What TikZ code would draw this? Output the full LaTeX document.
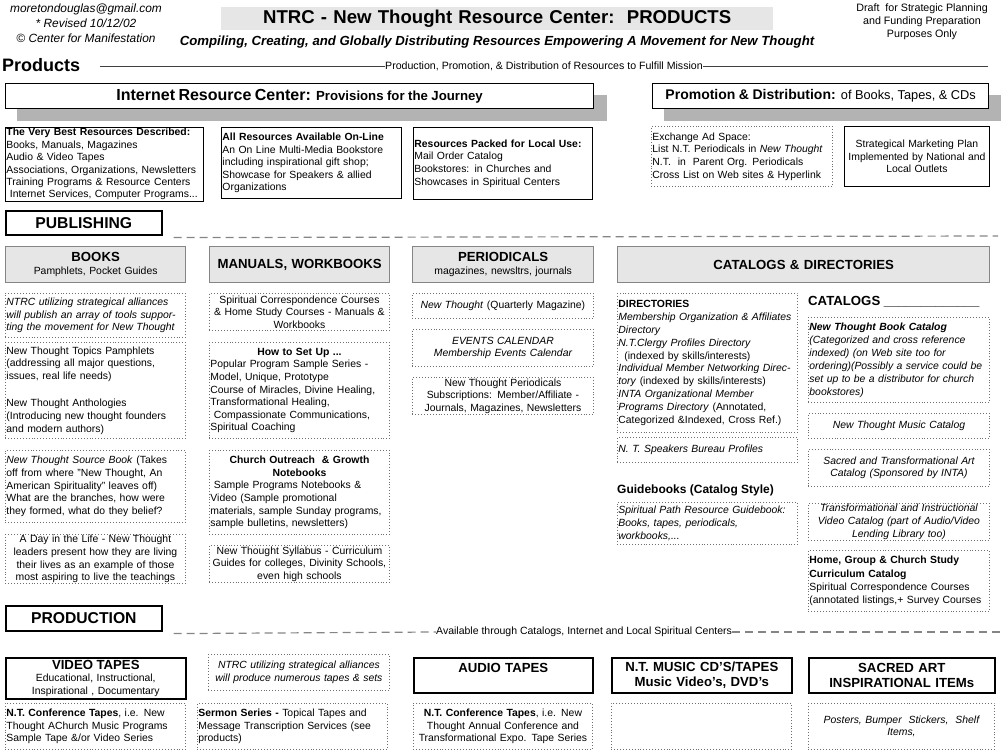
\documentclass[tikz,border=0pt]{standalone}
\usepackage{fontspec}
\setmainfont{Liberation Sans}
\usetikzlibrary{backgrounds}
\definecolor{ntrcfill}{HTML}{E6E6E6}
\definecolor{ntrcshade}{HTML}{B3B3B3}
\definecolor{ntrcrule}{HTML}{858585}
\definecolor{ntrcdot}{HTML}{6E6E6E}
\newcommand{\ntfont}[2]{\fontsize{#1}{#2}\selectfont}
\newcommand{\midline}[1]{\makebox[\linewidth]{#1}}

\begin{document}
\begin{tikzpicture}[
  x=1pt, y=-1pt,
  font=\ntfont{10.4}{12.6},
  every node/.style={anchor=north west, inner xsep=1pt, inner ysep=1pt},
  sized/.style 2 args={text width={#1pt-2pt}, minimum height={#2pt}},
  lbox/.style={align=left},
  cbox/.style={align=center},
  framed/.style={draw=black, line width=0.9pt, fill=white},
  dotbox/.style={draw=ntrcdot, dotted, line width=0.9pt},
  titlebox/.style={fill=ntrcfill, align=center, font=\bfseries\ntfont{18.6}{21}},
  banner/.style={draw=black, line width=1.2pt, fill=white, align=center},
  colhead/.style={draw=ntrcrule, fill=ntrcfill, line width=1.3pt, align=center},
  section/.style={draw=black, line width=1.6pt, align=center, font=\bfseries\ntfont{15.7}{18}},
  prodhead/.style={draw=black, line width=1.6pt, align=center, font=\bfseries\ntfont{13.2}{15.5}},
  hline/.style={draw=black!75, line width=0.8pt},
  sepline/.style={draw=ntrcrule, line width=1.2pt, dash pattern=on 8pt off 5pt}
]
  \useasboundingbox (0,0) rectangle (1002,751);

  % heading
  \node[anchor=north, align=center, font=\itshape\ntfont{11.9}{15}] (contact) at (86,3) {moretondouglas@gmail.com\\{*} Revised 10/12/02\\© Center for Manifestation};
  \node[titlebox, sized={552}{23}] (title) at (221,7) {NTRC - New Thought Resource Center:\ \ PRODUCTS};
  \node[anchor=center, font=\bfseries\itshape\ntfont{13.2}{15}] (subtitle) at (497,42) {Compiling, Creating, and Globally Distributing Resources Empowering A Movement for New Thought};
  \node[anchor=north, align=center, font=\ntfont{10.7}{12.8}] (draft) at (922,3) {Draft\ \ for Strategic Planning\\and Funding Preparation\\Purposes Only};

  \node[anchor=west, inner xsep=0pt, font=\bfseries\ntfont{18}{20}] (products) at (2,65) {Products};
  \node[anchor=west, inner xsep=0pt, font=\ntfont{10.6}{12}] (mission) at (385,66) {Production, Promotion, \& Distribution of Resources to Fulfill Mission};
  \coordinate (rulestart) at (100,66);
  \coordinate (ruleend) at (988,66);
  \draw[hline] (rulestart) -- (mission.west);
  \draw[hline] (mission.east) -- (ruleend);

  % resource center and promotion
  \node[banner, sized={588}{25}] (irc) at (5,83) {\bfseries\ntfont{16}{18}Internet Resource Center: \ntfont{13.2}{15}Provisions for the Journey};
  \node[banner, sized={336}{25}] (promo) at (652,83) {\ntfont{14}{16}\textbf{Promotion \& Distribution:} {\ntfont{12.8}{15}of Books, Tapes, \& CDs}};
  \begin{scope}[on background layer]
    \fill[ntrcshade] ([shift={(12,12)}]irc.north west) rectangle ([shift={(13,12)}]irc.south east);
    \fill[ntrcshade] ([shift={(12,12)}]promo.north west) rectangle ([shift={(12,12)}]promo.south east);
  \end{scope}

  \node[framed, lbox, sized={198}{71}, font=\ntfont{10.4}{12.4}] (best) at (5,127) {\textbf{The Very Best Resources Described:}\\Books, Manuals, Magazines\\Audio \& Video Tapes\\Associations, Organizations, Newsletters\\Training Programs \& Resource Centers\\\ Internet Services, Computer Programs...};
  \node[framed, lbox, sized={180}{71}] (online) at (221,127) {\textbf{All Resources Available On-Line}\\An On Line Multi-Media Bookstore\\including inspirational gift shop;\\Showcase for Speakers \& allied\\Organizations};
  \node[framed, lbox, sized={179}{72}] (local) at (413,127) {\textbf{Resources Packed for Local Use:}\\Mail Order Catalog\\Bookstores: in Churches and\\Showcases in Spiritual Centers};
  \node[dotbox, lbox, sized={181}{60}] (adspace) at (651,126) {Exchange Ad Space:\\List N.T. Periodicals in \textit{New Thought}\\N.T.\ \ in\ \ Parent Org. Periodicals\\Cross List on Web sites \& Hyperlink};
  \node[framed, cbox, sized={145}{60}] (marketing) at (844,126) {Strategical Marketing Plan\\Implemented by National and\\Local Outlets};

  % publishing
  \node[section, sized={156}{24}] (publishing) at (5,210) {PUBLISHING};
  \coordinate (pubend) at (998,236);
  \draw[sepline] ([shift={(11,2)}]publishing.south east) -- (pubend);

  \node[colhead, sized={180}{36}] (books) at (5,246) {\textbf{\ntfont{13.2}{15}BOOKS}\\Pamphlets, Pocket Guides};
  \node[colhead, sized={180}{36}, font=\bfseries\ntfont{13.2}{15}] (manuals) at (209,246) {MANUALS, WORKBOOKS};
  \node[colhead, sized={181}{36}] (periodicals) at (412,246) {\textbf{\ntfont{13.2}{15}PERIODICALS}\\magazines, newsltrs, journals};
  \node[colhead, sized={372}{36}, font=\bfseries\ntfont{13.2}{15}] (catalogs) at (617,246) {CATALOGS \& DIRECTORIES};

  \node[dotbox, lbox, sized={180}{44}, font=\itshape\ntfont{10.4}{12.6}] (bookalliance) at (5,293) {NTRC utilizing strategical alliances\\will publish an array of tools suppor-\\ting the movement for New Thought};
  \node[dotbox, lbox, sized={180}{96}] (pamphlets) at (5,342) {New Thought Topics Pamphlets\\(addressing all major questions,\\issues, real life needs)\\[15pt]New Thought Anthologies\\(Introducing new thought founders\\and modern authors)};
  \node[dotbox, lbox, sized={180}{72}] (sourcebook) at (5,450) {\textit{New Thought Source Book} (Takes\\off from where "New Thought, An\\American Spirituality" leaves off)\\What are the branches, how were\\they formed, what do they belief?};
  \node[dotbox, cbox, sized={180}{48}] (dayinlife) at (5,534) {A Day in the Life - New Thought\\leaders present how they are living\\their lives as an example of those\\most aspiring to live the teachings};

  \node[dotbox, cbox, sized={180}{37}] (correspond) at (209,293) {Spiritual Correspondence Courses\\\& Home Study Courses - Manuals \&\\Workbooks};
  \node[dotbox, lbox, sized={180}{96}] (setup) at (209,342) {\midline{\textbf{How to Set Up ...}}\\Popular Program Sample Series -\\Model, Unique, Prototype\\Course of Miracles, Divine Healing,\\Transformational Healing,\\\ Compassionate Communications,\\Spiritual Coaching};
  \node[dotbox, lbox, sized={180}{84}] (outreach) at (209,450) {\midline{\textbf{Church Outreach\ \ \& Growth}}\\\midline{\textbf{Notebooks}}\\\ Sample Programs Notebooks \&\\Video (Sample promotional\\materials, sample Sunday programs,\\sample bulletins, newsletters)};
  \node[dotbox, cbox, sized={180}{37}] (syllabus) at (209,545) {New Thought Syllabus - Curriculum\\Guides for colleges, Divinity Schools,\\even high schools};

  \node[dotbox, cbox, sized={181}{25}] (magazine) at (412,293) {\textit{New Thought} (Quarterly Magazine)};
  \node[dotbox, cbox, sized={181}{37}, font=\itshape\ntfont{10.4}{12.6}] (events) at (412,329) {EVENTS CALENDAR\\Membership Events Calendar};
  \node[dotbox, cbox, sized={181}{37}] (subscriptions) at (412,377) {New Thought Periodicals\\Subscriptions: Member/Affiliate -\\Journals, Magazines, Newsletters};

  \node[dotbox, lbox, sized={180}{139}, font=\ntfont{10.4}{12.9}] (directories) at (617,293) {\textbf{DIRECTORIES}\\\textit{Membership Organization \& Affiliates}\\\textit{Directory}\\\textit{N.T.Clergy Profiles Directory}\\\hspace{6pt}(indexed by skills/interests)\\\textit{Individual Member Networking Direc-}\\\textit{tory} (indexed by skills/interests)\\\textit{INTA Organizational Member}\\\textit{Programs Directory} (Annotated,\\Categorized \&Indexed, Cross Ref.)};
  \node[dotbox, lbox, sized={180}{25}, font=\itshape\ntfont{10.4}{12.6}] (speakers) at (617,437) {N. T. Speakers Bureau Profiles};
  \node[anchor=west, inner xsep=0pt, font=\bfseries\ntfont{12}{14}] (guidebooks) at (617,490) {Guidebooks (Catalog Style)};
  \node[dotbox, lbox, sized={180}{42}, font=\itshape\ntfont{10.4}{12.6}] (pathguide) at (617,502) {Spiritual Path Resource Guidebook:\\Books, tapes, periodicals,\\workbooks,...};

  \node[anchor=west, inner xsep=0pt, font=\bfseries\ntfont{13.2}{15}] (cataloglabel) at (808,302) {CATALOGS \_\_\_\_\_\_\_\_\_\_\_\_\_};
  \node[dotbox, lbox, sized={181}{85}, font=\itshape\ntfont{10.4}{13}] (bookcatalog) at (808,317) {\textbf{New Thought Book Catalog}\\(Categorized and cross reference\\indexed) (on Web site too for\\ordering)(Possibly a service could be\\set up to be a distributor for church\\bookstores)};
  \node[dotbox, cbox, sized={181}{25}, font=\itshape\ntfont{10.4}{12.6}] (musiccatalog) at (808,413) {New Thought Music Catalog};
  \node[dotbox, cbox, sized={181}{37}, font=\itshape\ntfont{10.4}{12.6}] (artcatalog) at (808,449) {Sacred and Transformational Art\\Catalog (Sponsored by INTA)};
  \node[dotbox, cbox, sized={181}{36}, font=\itshape\ntfont{10.4}{12.6}] (videocatalog) at (808,503) {Transformational and Instructional\\Video Catalog (part of Audio/Video\\Lending Library too)};
  \node[dotbox, lbox, sized={181}{61}, font=\ntfont{10.4}{13.2}] (curriculum) at (808,550) {\textbf{Home, Group \& Church Study}\\\textbf{Curriculum Catalog}\\Spiritual Correspondence Courses\\(annotated listings,+ Survey Courses};

  % production
  \node[section, sized={156}{25}] (production) at (5,605) {PRODUCTION};
  \node[anchor=west, inner xsep=0pt, font=\ntfont{10.5}{12}] (avail) at (436,632) {Available through Catalogs, Internet and Local Spiritual Centers};
  \coordinate (prodend) at (1000,632);
  \draw[sepline] ([shift={(11,2)}]production.south east) -- (avail.west);
  \draw[sepline] (avail.east) -- (prodend);

  \node[prodhead, sized={180}{41}, font=\ntfont{10.4}{12.6}] (videotapes) at (5,657) {{\bfseries\ntfont{13.2}{15}VIDEO TAPES}\\Educational, Instructional,\\Inspirational , Documentary};
  \node[dotbox, cbox, sized={181}{36}, font=\itshape\ntfont{10.4}{12.6}] (prodalliance) at (208,654) {NTRC utilizing strategical alliances\\will produce numerous tapes \& sets};
  \node[prodhead, sized={179}{35}] (audiotapes) at (413,657) {AUDIO TAPES\\\mbox{}};
  \node[prodhead, sized={180}{35}] (musictapes) at (611,657) {N.T. MUSIC CD'S/TAPES\\Music Video's, DVD's};
  \node[prodhead, sized={186}{35}] (sacredart) at (808,657) {SACRED ART\\INSPIRATIONAL ITEMs};

  \node[dotbox, lbox, sized={180}{46}] (confvideo) at (5,703) {\textbf{N.T. Conference Tapes}, i.e. New\\Thought AChurch Music Programs\\Sample Tape \&/or Video Series};
  \node[dotbox, lbox, sized={190}{46}] (sermons) at (197,703) {\textbf{Sermon Series -} Topical Tapes and\\Message Transcription Services (see\\products)};
  \node[dotbox, cbox, sized={179}{46}] (confaudio) at (413,703) {\textbf{N.T. Conference Tapes}, i.e. New\\Thought Annual Conference and\\Transformational Expo. Tape Series};
  \node[dotbox, sized={180}{46}] (musicitems) at (611,703) {};
  \node[dotbox, cbox, sized={186}{46}, font=\itshape\ntfont{10.4}{12.6}] (artitems) at (808,703) {Posters, Bumper\ \ Stickers,\ \ Shelf\\Items,};
\end{tikzpicture}
\end{document}
